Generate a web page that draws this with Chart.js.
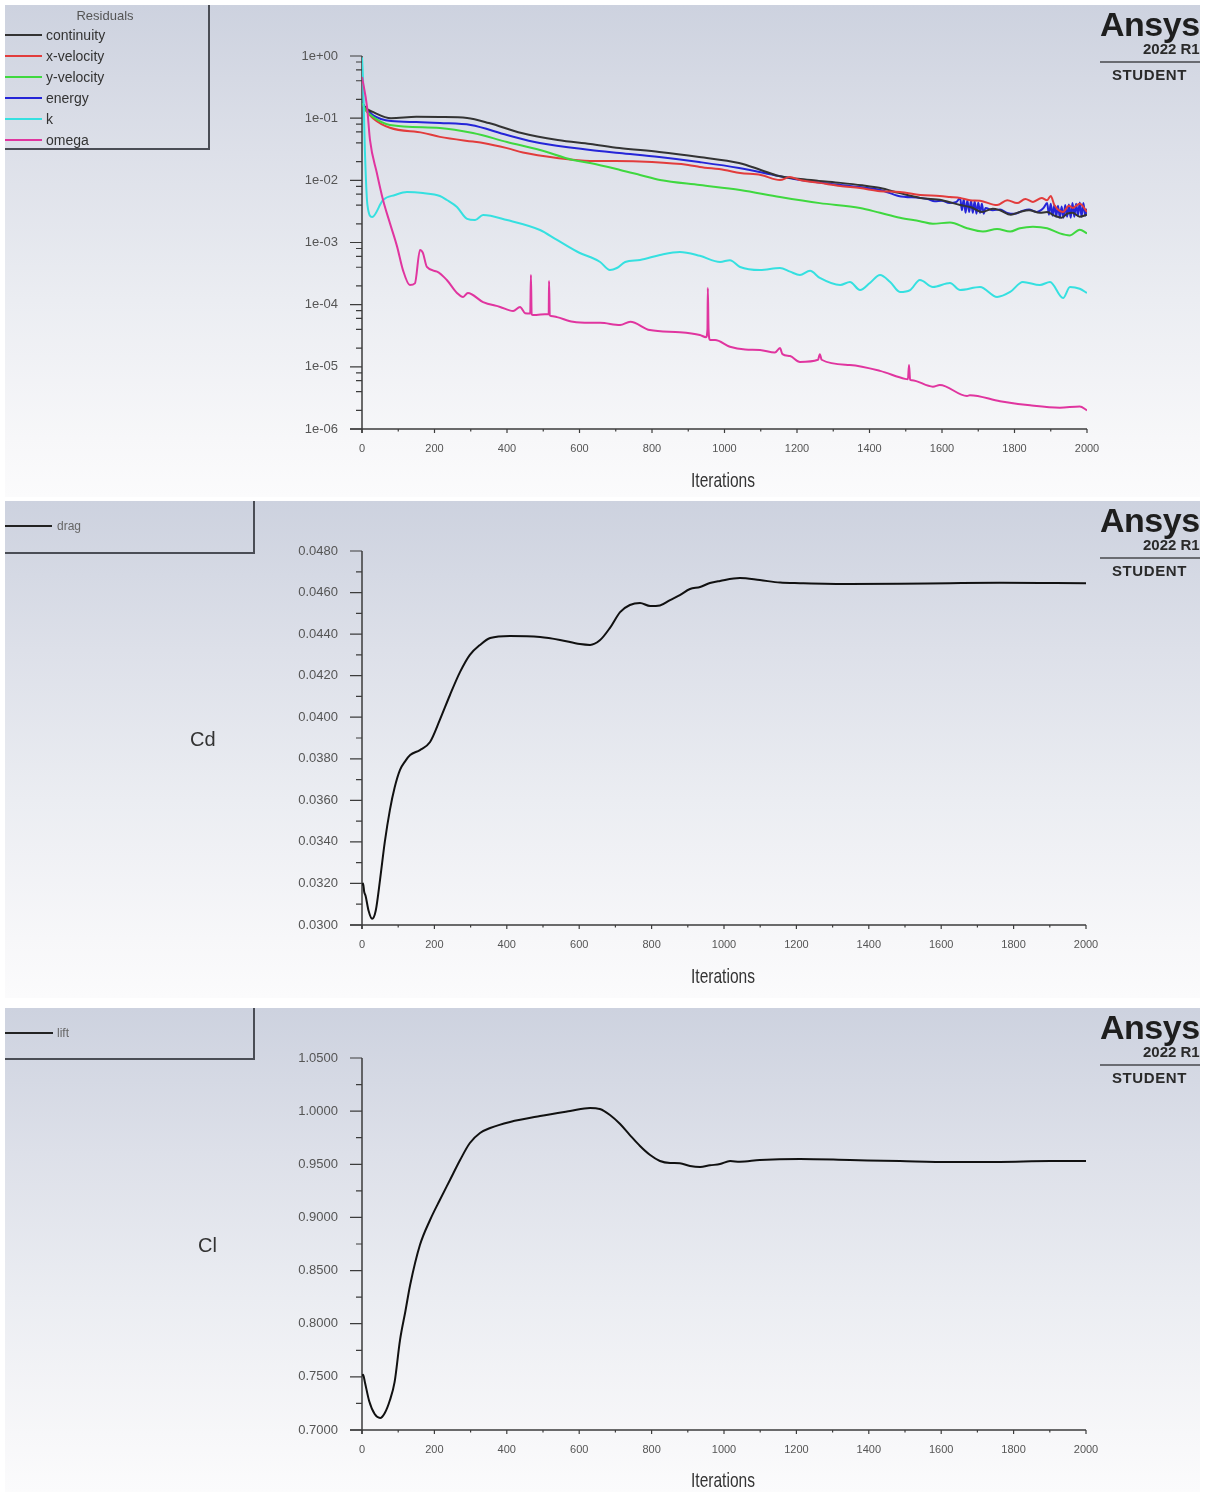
<!DOCTYPE html>
<html><head><meta charset="utf-8">
<script src="https://cdn.jsdelivr.net/npm/chart.js@4.4.1/dist/chart.umd.min.js"></script>
<style>
html,body{margin:0;padding:0;background:#fff;}
body{width:1207px;height:1492px;position:relative;overflow:hidden;font-family:"Liberation Sans",Arial,sans-serif;}
.panel{position:absolute;left:5px;width:1195px;overflow:hidden;background:linear-gradient(to bottom,#cdd2df 0%,#dde0e9 30%,#ebedf2 60%,#f7f7f9 88%,#fbfbfc 100%);}
.panel canvas{position:absolute;left:0;top:0;}
.legend{position:absolute;left:0;top:0;border-right:2px solid #4a4d55;border-bottom:2px solid #4a4d55;box-sizing:border-box;}
.lg-line{position:absolute;left:0;height:2px;}
.lg-text{position:absolute;font-size:14px;color:#333;line-height:14px;}
.t{position:absolute;white-space:nowrap;}
.ansys{position:absolute;left:1095px;top:1px;font-size:34px;font-weight:bold;color:#1e1e1e;letter-spacing:-0.5px;line-height:36px;}
.rel{position:absolute;left:1138px;top:36px;font-size:15px;font-weight:bold;color:#2a2a2a;line-height:16px;}
.rule{position:absolute;left:1095px;top:56px;width:100px;height:2px;background:#6a6c72;}
.stud{position:absolute;left:1107px;top:62px;font-size:15px;font-weight:bold;color:#2a2a2a;line-height:16px;letter-spacing:0.6px;}
.xt{position:absolute;left:618px;width:200px;text-align:center;font-size:21px;color:#333;line-height:22px;transform:scaleX(0.74);transform-origin:center;}
.yt{position:absolute;font-size:20px;color:#333;line-height:22px;}
</style>
</head><body>

<div class="panel" id="p1" style="top:5px;height:492px;">
  <canvas id="c1" width="1195" height="492"></canvas>
  <div class="legend" style="width:205px;height:145px;">
    <div class="t" style="left:0;width:200px;text-align:center;top:3px;font-size:13px;color:#555;">Residuals</div>
    <div class="lg-line" style="top:29px;width:37px;background:#333;"></div><div class="lg-text" style="left:41px;top:23px;">continuity</div>
    <div class="lg-line" style="top:50px;width:37px;background:#e23c3c;"></div><div class="lg-text" style="left:41px;top:44px;">x-velocity</div>
    <div class="lg-line" style="top:71px;width:37px;background:#3fd83f;"></div><div class="lg-text" style="left:41px;top:65px;">y-velocity</div>
    <div class="lg-line" style="top:92px;width:37px;background:#2525d8;"></div><div class="lg-text" style="left:41px;top:86px;">energy</div>
    <div class="lg-line" style="top:113px;width:37px;background:#35e0e0;"></div><div class="lg-text" style="left:41px;top:107px;">k</div>
    <div class="lg-line" style="top:134px;width:37px;background:#e0359f;"></div><div class="lg-text" style="left:41px;top:128px;">omega</div>
  </div>
  <div class="ansys">Ansys</div><div class="rel">2022 R1</div><div class="rule"></div><div class="stud">STUDENT</div>
  <div class="xt" style="top:464px;">Iterations</div>
</div>

<div class="panel" id="p2" style="top:501px;height:497px;">
  <canvas id="c2" width="1195" height="497"></canvas>
  <div class="legend" style="width:250px;height:53px;">
    <div class="lg-line" style="top:24px;width:47px;background:#222;"></div><div class="lg-text" style="left:52px;top:18px;font-size:12px;color:#666;">drag</div>
  </div>
  <div class="ansys">Ansys</div><div class="rel">2022 R1</div><div class="rule"></div><div class="stud">STUDENT</div>
  <div class="yt" style="left:185px;top:227px;">Cd</div>
  <div class="xt" style="top:464px;">Iterations</div>
</div>

<div class="panel" id="p3" style="top:1008px;height:484px;">
  <canvas id="c3" width="1195" height="484"></canvas>
  <div class="legend" style="width:250px;height:52px;">
    <div class="lg-line" style="top:24px;width:48px;background:#222;"></div><div class="lg-text" style="left:52px;top:18px;font-size:12px;color:#666;">lift</div>
  </div>
  <div class="ansys">Ansys</div><div class="rel">2022 R1</div><div class="rule"></div><div class="stud">STUDENT</div>
  <div class="yt" style="left:193px;top:226px;">Cl</div>
  <div class="xt" style="top:461px;">Iterations</div>
</div>

<script>
// ---------- DATA ----------
const iterTicks = [0, 200, 400, 600, 800, 1000, 1200, 1400, 1600, 1800, 2000];
const iterTickLabels = ['0','200','400','600','800','1000','1200','1400','1600','1800','2000'];

const residualTicks = [1e-6, 1e-5, 1e-4, 1e-3, 1e-2, 1e-1, 1];
const residualTickLabels = ['1e-06','1e-05','1e-04','1e-03','1e-02','1e-01','1e+00'];

const cdTicks = [0.030, 0.032, 0.034, 0.036, 0.038, 0.040, 0.042, 0.044, 0.046, 0.048];
const cdTickLabels = ['0.0300','0.0320','0.0340','0.0360','0.0380','0.0400','0.0420','0.0440','0.0460','0.0480'];

const clTicks = [0.70, 0.75, 0.80, 0.85, 0.90, 0.95, 1.00, 1.05];
const clTickLabels = ['0.7000','0.7500','0.8000','0.8500','0.9000','0.9500','1.0000','1.0500'];

const continuityIter = [1, 10, 30, 80, 150, 215, 290, 350, 440, 540, 630, 710, 820, 930, 1040, 1100, 1150, 1210, 1260, 1320, 1380, 1430, 1480, 1540, 1600, 1650, 1680, 1710, 1740, 1760, 1790, 1815, 1840, 1870, 1890, 1910, 1930, 1945, 1960, 1980, 2000];
const continuity = [0.175, 0.146, 0.126, 0.100, 0.105, 0.1045, 0.1007, 0.0836, 0.0577, 0.0446, 0.0384, 0.0331, 0.0286, 0.0237, 0.0190, 0.0147, 0.0117, 0.0105, 0.0098, 0.0091, 0.0083, 0.0075, 0.0063, 0.0052, 0.0048, 0.0040, 0.0037, 0.0031, 0.0035, 0.0033, 0.0028, 0.0031, 0.0033, 0.0030, 0.0031, 0.0027, 0.0025, 0.0029, 0.0030, 0.0026, 0.0028];

const xVelIter = [1, 10, 30, 77, 168, 215, 306, 334, 400, 444, 538, 629, 700, 800, 900, 932, 1000, 1043, 1100, 1153, 1180, 1208, 1263, 1319, 1374, 1429, 1484, 1540, 1594, 1622, 1650, 1677, 1705, 1752, 1780, 1807, 1830, 1851, 1875, 1890, 1900, 1910, 1934, 1950, 1961, 1980, 2000];
const xVelocity = [0.175, 0.135, 0.100, 0.070, 0.058, 0.050, 0.042, 0.040, 0.033, 0.028, 0.0229, 0.0205, 0.0205, 0.0197, 0.0177, 0.0164, 0.0147, 0.0131, 0.0122, 0.0101, 0.0113, 0.0101, 0.0091, 0.0081, 0.0075, 0.0067, 0.0065, 0.0058, 0.0056, 0.0054, 0.0052, 0.0048, 0.0047, 0.0040, 0.0048, 0.0043, 0.0050, 0.0045, 0.0052, 0.0048, 0.0056, 0.0040, 0.0031, 0.0039, 0.0036, 0.0042, 0.0031];

const yVelIter = [1, 10, 30, 77, 215, 306, 400, 491, 582, 629, 712, 767, 822, 932, 1043, 1153, 1263, 1374, 1429, 1484, 1539, 1575, 1622, 1669, 1713, 1752, 1788, 1815, 1851, 1890, 1925, 1953, 1980, 2000];
const yVelocity = [0.175, 0.135, 0.105, 0.0776, 0.0695, 0.0577, 0.0414, 0.0308, 0.0212, 0.0190, 0.0147, 0.0122, 0.0101, 0.0084, 0.0070, 0.0054, 0.0043, 0.0036, 0.0030, 0.0025, 0.0022, 0.0020, 0.0021, 0.0017, 0.0015, 0.00165, 0.0015, 0.0017, 0.0018, 0.0017, 0.0014, 0.0013, 0.0016, 0.0014];

const energyIter = [1, 10, 30, 80, 150, 215, 300, 400, 490, 630, 710, 820, 930, 1040, 1150, 1210, 1320, 1430, 1480, 1540, 1560, 1580, 1600, 1620, 1640, 1650, 1655, 1660, 1665, 1670, 1675, 1680, 1685, 1690, 1695, 1700, 1705, 1710, 1715, 1720, 1740, 1760, 1780, 1800, 1820, 1840, 1860, 1880, 1890, 1895, 1900, 1905, 1910, 1915, 1920, 1925, 1930, 1935, 1940, 1945, 1950, 1955, 1960, 1965, 1970, 1975, 1980, 1985, 1990, 1995, 2000];
const energy = [0.175, 0.146, 0.112, 0.090, 0.0868, 0.0836, 0.0776, 0.0536, 0.0399, 0.0308, 0.0275, 0.0237, 0.0197, 0.0158, 0.0117, 0.0101, 0.0084, 0.0070, 0.0056, 0.0052, 0.0050, 0.0046, 0.0047, 0.0043, 0.0045, 0.0052, 0.0033, 0.0050, 0.0030, 0.0048, 0.0031, 0.0047, 0.0030, 0.0046, 0.0029, 0.0044, 0.0030, 0.0042, 0.0029, 0.0036, 0.0033, 0.0034, 0.0030, 0.0029, 0.0032, 0.0034, 0.0031, 0.0036, 0.0043, 0.0028, 0.0042, 0.0027, 0.0040, 0.0026, 0.0039, 0.0025, 0.0038, 0.0025, 0.0040, 0.0026, 0.0041, 0.0025, 0.0043, 0.0026, 0.0042, 0.0027, 0.0044, 0.0026, 0.0043, 0.0027, 0.0035];

const kIter = [0, 3, 8, 15, 28, 58, 91, 124, 168, 215, 234, 262, 290, 312, 334, 400, 491, 538, 601, 629, 657, 684, 703, 726, 767, 822, 877, 932, 988, 1015, 1043, 1098, 1153, 1181, 1208, 1236, 1263, 1319, 1346, 1374, 1401, 1429, 1457, 1484, 1512, 1539, 1575, 1622, 1650, 1705, 1752, 1788, 1823, 1870, 1898, 1934, 1953, 1980, 2000];
const kRes = [0.95, 0.40, 0.030, 0.0040, 0.00257, 0.00483, 0.0058, 0.00649, 0.00625, 0.0056, 0.00483, 0.00372, 0.0024, 0.0023, 0.00277, 0.0023, 0.00159, 0.0011, 0.000678, 0.000585, 0.000486, 0.000361, 0.000389, 0.000486, 0.000523, 0.00063, 0.000704, 0.00061, 0.000486, 0.00052, 0.000404, 0.000361, 0.000389, 0.00034, 0.0003, 0.00035, 0.000269, 0.000207, 0.000232, 0.000172, 0.000223, 0.0003, 0.000232, 0.00016, 0.000172, 0.000249, 0.000192, 0.000223, 0.000172, 0.000192, 0.000133, 0.00016, 0.000232, 0.000207, 0.000232, 0.000128, 0.000192, 0.00018, 0.000154];

const omegaIter = [0, 14, 22, 41, 58, 77, 97, 113, 132, 146, 160, 168, 179, 207, 234, 262, 279, 292, 334, 381, 417, 436, 450, 464, 466, 468, 472, 513, 515, 516, 518, 521, 538, 582, 629, 657, 712, 740, 794, 877, 932, 949, 953, 954, 956, 960, 974, 1015, 1057, 1098, 1139, 1153, 1160, 1181, 1208, 1258, 1263, 1268, 1346, 1429, 1498, 1506, 1509, 1512, 1517, 1575, 1594, 1669, 1677, 1760, 1843, 1925, 1980, 2000];
const omega = [0.46, 0.15, 0.0446, 0.0131, 0.00483, 0.00205, 0.00085, 0.00036, 0.000207, 0.00022, 0.000758, 0.00068, 0.000404, 0.00034, 0.000249, 0.000154, 0.000133, 0.000154, 0.00011, 0.000092, 0.000079, 0.000092, 0.000073, 0.000072, 0.0003, 0.00007, 0.000068, 0.0000708, 0.00007, 0.00024, 0.000068, 0.000066, 0.000063, 0.000053, 0.000051, 0.000051, 0.000047, 0.000053, 0.000039, 0.000036, 0.0000325, 0.00003, 0.00004, 0.000185, 0.00004, 0.000027, 0.000027, 0.000021, 0.000019, 0.0000187, 0.000017, 0.00002, 0.000016, 0.0000149, 0.000012, 0.000013, 0.000016, 0.000013, 0.0000107, 0.0000086, 0.0000064, 0.0000063, 0.0000107, 0.0000062, 0.0000061, 0.0000048, 0.0000051, 0.0000034, 0.0000035, 0.0000028, 0.0000024, 0.0000022, 0.0000023, 0.000002];

const cdIter = [0, 3, 6, 10, 18, 28, 38, 50, 63, 77, 90, 105, 120, 133, 160, 188, 215, 243, 271, 298, 326, 354, 409, 492, 547, 602, 630, 657, 685, 713, 740, 768, 796, 823, 851, 878, 906, 934, 961, 989, 1044, 1099, 1155, 1210, 1348, 1486, 1624, 1762, 1901, 2000];
const cd = [0.0319, 0.0320, 0.0316, 0.0314, 0.0307, 0.0303, 0.0307, 0.0322, 0.0340, 0.03553, 0.0366, 0.03746, 0.0379, 0.03818, 0.03842, 0.03881, 0.03987, 0.04107, 0.04218, 0.0430, 0.04348, 0.04381, 0.04391, 0.04386, 0.04372, 0.04352, 0.04348, 0.0437, 0.0443, 0.04506, 0.0454, 0.0455, 0.04535, 0.04538, 0.04564, 0.04588, 0.04617, 0.04627, 0.04646, 0.04656, 0.0467, 0.0466, 0.04648, 0.04645, 0.04641, 0.04642, 0.04645, 0.04647, 0.04646, 0.04645];

const clIter = [0, 3, 8, 20, 35, 50, 63, 77, 90, 105, 120, 133, 160, 188, 215, 243, 271, 298, 326, 354, 409, 492, 575, 630, 657, 685, 713, 740, 768, 796, 823, 851, 878, 906, 934, 961, 989, 1017, 1044, 1099, 1210, 1348, 1486, 1624, 1762, 1901, 2000];
const cl = [0.7508, 0.752, 0.745, 0.727, 0.715, 0.7113, 0.716, 0.728, 0.745, 0.7846, 0.812, 0.8364, 0.874, 0.8976, 0.9164, 0.9352, 0.954, 0.970, 0.9794, 0.9841, 0.9898, 0.9954, 1.0001, 1.003, 1.002, 0.9964, 0.9879, 0.9775, 0.9672, 0.9587, 0.9531, 0.9512, 0.951, 0.9484, 0.9474, 0.949, 0.9502, 0.953, 0.9524, 0.954, 0.955, 0.954, 0.953, 0.9521, 0.9522, 0.953, 0.953];

// ---------- HELPERS ----------
const pts = (xs, ys) => xs.map((x, i) => ({x: x, y: ys[i]}));
const tickFont = {family: '"Liberation Sans", Arial, sans-serif', size: 13};
const xTickFont = {family: '"Liberation Sans", Arial, sans-serif', size: 11};

const axisPlugin = {
  id: 'axesDraw',
  beforeDatasetsDraw(chart, args, o) {
    const {ctx, chartArea: a, scales: {x, y}} = chart;
    ctx.save();
    ctx.strokeStyle = '#3c3c3c';
    ctx.lineWidth = 1.5;
    ctx.beginPath();
    ctx.moveTo(a.left, a.top); ctx.lineTo(a.left, a.bottom + 4);
    ctx.moveTo(a.left - 12, a.bottom); ctx.lineTo(a.right, a.bottom);
    ctx.stroke();
    ctx.lineWidth = 1.2;
    ctx.beginPath();
    o.yMajor.forEach(v => { const p = y.getPixelForValue(v); ctx.moveTo(a.left - 12, p); ctx.lineTo(a.left, p); });
    o.yMinor.forEach(v => { const p = y.getPixelForValue(v); ctx.moveTo(a.left - 6, p); ctx.lineTo(a.left, p); });
    o.xMajor.forEach(v => { const p = x.getPixelForValue(v); ctx.moveTo(p, a.bottom); ctx.lineTo(p, a.bottom + 4); });
    o.xMinor.forEach(v => { const p = x.getPixelForValue(v); ctx.moveTo(p, a.bottom); ctx.lineTo(p, a.bottom + 2.5); });
    ctx.stroke();
    ctx.restore();
  }
};

const xMinor = iterTicks.slice(0, -1).map(v => v + 100);

function makeChart(id, datasets, yCfg, pad, plugOpts) {
  return new Chart(document.getElementById(id), {
    type: 'line',
    data: {datasets: datasets},
    plugins: [axisPlugin],
    options: {
      responsive: false,
      animation: false,
      events: [],
      layout: {padding: pad},
      elements: {point: {radius: 0}, line: {borderWidth: 2, cubicInterpolationMode: 'monotone'}},
      plugins: {legend: {display: false}, tooltip: {enabled: false}, axesDraw: plugOpts},
      scales: {
        x: {
          type: 'linear', min: 0, max: 2000,
          afterBuildTicks: s => { s.ticks = iterTicks.map(v => ({value: v})); },
          afterFit: s => { s.height = 40; },
          grid: {display: false, drawTicks: false},
          border: {display: false},
          ticks: {autoSkip: false, maxRotation: 0, padding: 13, color: '#555', font: xTickFont,
                   callback: (v, i) => iterTickLabels[i]}
        },
        y: Object.assign({
          afterFit: s => { s.width = 80; },
          grid: {display: false, drawTicks: false},
          border: {display: false}
        }, yCfg)
      }
    }
  });
}

function yAxis(type, min, max, vals, labels) {
  return {
    type: type, min: min, max: max,
    afterBuildTicks: s => { s.ticks = vals.map(v => ({value: v})); },
    ticks: {autoSkip: false, padding: 24, color: '#555', font: tickFont, callback: (v, i) => labels[i]}
  };
}

// Residuals
const logMinor = [];
residualTicks.slice(0, -1).forEach(d => [2, 4, 6, 8].forEach(m => logMinor.push(d * m)));

const lineStyle = (label, data, color) => ({label: label, data: data, borderColor: color, borderWidth: 2, pointRadius: 0, fill: false});

makeChart('c1', [
  lineStyle('omega', pts(omegaIter, omega), '#e0359f'),
  lineStyle('k', pts(kIter, kRes), '#35e0e0'),
  lineStyle('y-velocity', pts(yVelIter, yVelocity), '#3fd83f'),
  lineStyle('x-velocity', pts(xVelIter, xVelocity), '#e23c3c'),
  lineStyle('continuity', pts(continuityIter, continuity), '#333333'),
  lineStyle('energy', pts(energyIter, energy), '#2525d8')
], yAxis('logarithmic', 1e-6, 1, residualTicks, residualTickLabels),
  {left: 277, right: 113, top: 51, bottom: 28},
  {yMajor: residualTicks, yMinor: logMinor, xMajor: iterTicks, xMinor: xMinor});

const cdMinor = cdTicks.slice(0, -1).map(v => v + 0.001);
makeChart('c2', [lineStyle('drag', pts(cdIter, cd), '#111111')],
  yAxis('linear', 0.030, 0.048, cdTicks, cdTickLabels),
  {left: 277, right: 114, top: 50, bottom: 33},
  {yMajor: cdTicks, yMinor: cdMinor, xMajor: iterTicks, xMinor: xMinor});

const clMinor = clTicks.slice(0, -1).map(v => v + 0.025);
makeChart('c3', [lineStyle('lift', pts(clIter, cl), '#111111')],
  yAxis('linear', 0.70, 1.05, clTicks, clTickLabels),
  {left: 277, right: 114, top: 50, bottom: 22},
  {yMajor: clTicks, yMinor: clMinor, xMajor: iterTicks, xMinor: xMinor});
</script>
</body></html>
